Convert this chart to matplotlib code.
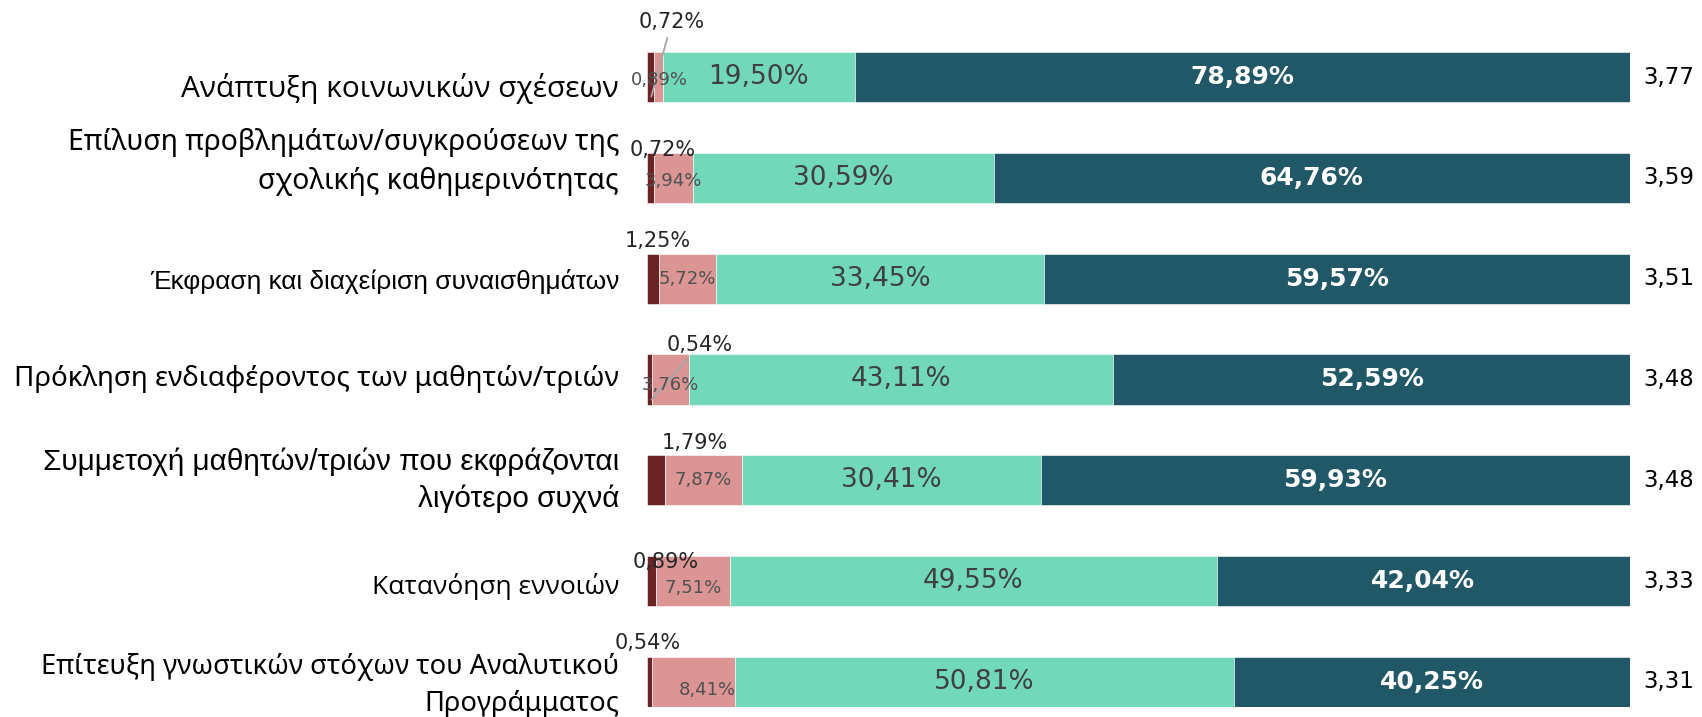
import matplotlib
matplotlib.use("Agg")
import matplotlib.pyplot as plt
import numpy as np

categories = [
    "Ανάπτυξη κοινωνικών σχέσεων",
    "Επίλυση προβλημάτων/συγκρούσεων της\nσχολικής καθημερινότητας",
    "Έκφραση και διαχείριση συναισθημάτων",
    "Πρόκληση ενδιαφέροντος των μαθητών/τριών",
    "Συμμετοχή μαθητών/τριών που εκφράζονται\nλιγότερο συχνά",
    "Κατανόηση εννοιών",
    "Επίτευξη γνωστικών στόχων του Αναλυτικού\nΠρογράμματος",
]
never = [0.72, 0.72, 1.25, 0.54, 1.79, 0.89, 0.54]
rarely = [0.89, 3.94, 5.72, 3.76, 7.87, 7.51, 8.41]
often = [19.50, 30.59, 33.45, 43.11, 30.41, 49.55, 50.81]
always = [78.89, 64.76, 59.57, 52.59, 59.93, 42.04, 40.25]
means = [3.77, 3.59, 3.51, 3.48, 3.48, 3.33, 3.31]

colors = ["#6B2323", "#DA9594", "#71D8BA", "#215868"]

# the source mixes fonts between category labels
cat_font = ["Open Sans", "Noto Sans", "Liberation Sans", "Noto Sans",
            "Liberation Sans", "Open Sans", "Noto Sans"]
cat_size = [21.5, 20.4, 18.9, 20, 21.4, 19, 19.7]
cat_dy = [-11, 16, -3, 0, 0, -5, -4]

# label nudges in pixels (small segments)
never_off = [(21, 54), (12, 28), (5, 38), (50, 34), (39, 37), (14, 19), (-2, 39)]
never_leader = [True, False, False, True, False, False, False]
rarely_off = [(1, -3), (0, -3), (0, 0), (0, -6), (0, 0), (0, -7), (14, -8)]


def fmt(v):
    return f"{v:.2f}%".replace(".", ",")


fig = plt.figure(figsize=(17.02, 7.17), dpi=100)
ax = fig.add_axes([647 / 1702, 1 - 707 / 717, 983 / 1702, 655 / 717])

y = np.arange(len(categories))
left = np.zeros(len(categories))
series = [never, rarely, often, always]
for vals, c in zip(series, colors):
    ax.barh(y, vals, left=left, height=0.5, color=c, edgecolor="white", linewidth=0.4)
    left = left + np.array(vals)

ax.set_xlim(0, 100)
ax.set_ylim(6.25, -0.25)
ax.set_yticks([])
ax.set_xticks([])
for s in ax.spines.values():
    s.set_visible(False)

for i in y:
    ax.annotate(categories[i], xy=(0, i), xytext=(-28, cat_dy[i]),
                textcoords="offset pixels", ha="right", va="center",
                fontsize=cat_size[i], family=[cat_font[i], "DejaVu Sans"],
                color="black", linespacing=1.42, multialignment="right")

    n, r, o, a = never[i], rarely[i], often[i], always[i]
    # never (dark maroon) label
    arrow = dict(arrowstyle="-", color="#A6A6A6", lw=1.3) if never_leader[i] else None
    xy = (n / 2, i + 0.22) if never_leader[i] else (n / 2, i)
    dx, dy = never_off[i]
    if never_leader[i]:
        dy += 23
    ax.annotate(fmt(n), xy=xy, xytext=(dx, dy), textcoords="offset pixels",
                ha="center", va="center", fontsize=15, color="#262626",
                arrowprops=arrow)
    # rarely (pink)
    dx, dy = rarely_off[i]
    ax.annotate(fmt(r), xy=(n + r / 2, i), xytext=(dx, dy), textcoords="offset pixels",
                ha="center", va="center", fontsize=13, color="#505050")
    # often (mint)
    ax.text(n + r + o / 2, i, fmt(o), ha="center", va="center", fontsize=19,
            color="#404040")
    # always (teal)
    ax.text(n + r + o + a / 2, i, fmt(a), ha="center", va="center", fontsize=18,
            color="white", fontweight="bold")
    ax.annotate(f"{means[i]:.2f}".replace(".", ","), xy=(100, i), xytext=(13, 0),
                textcoords="offset pixels", ha="left", va="center", fontsize=16.5,
                color="black")

fig.savefig("out.png", dpi=100)
